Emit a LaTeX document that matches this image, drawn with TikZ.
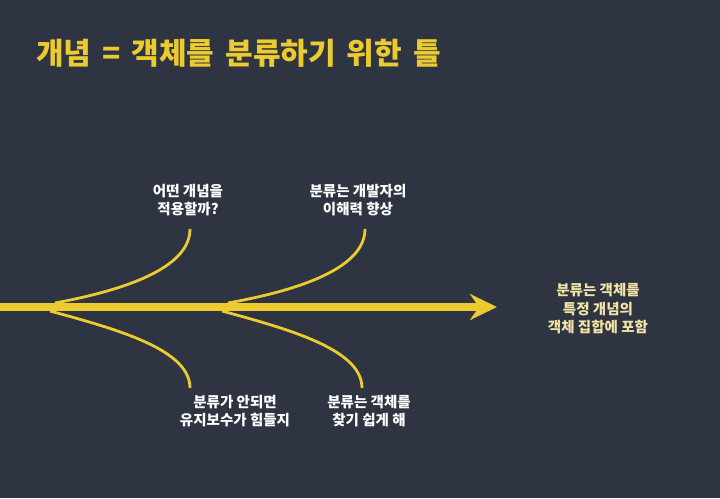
\documentclass[tikz,border=0pt]{standalone}
\usepackage{fontspec}
\setmainfont{Noto Sans CJK KR}
\usetikzlibrary{arrows.meta}
\definecolor{bg}{HTML}{2E3441}
\definecolor{ylw}{HTML}{EBCB2F}
\definecolor{pale}{HTML}{F2E3A6}
\newcommand{\widesp}{\spaceskip=11pt\relax}
\tikzset{
  lbl/.style={text=white, align=center, inner sep=0pt, font=\bfseries\fontsize{14.5}{18.5}\selectfont},
  branch/.style={draw=ylw, line width=2.8pt},
  spine/.style={draw=ylw, line width=8pt, -{Stealth[length=27pt,width=26pt,inset=9pt]}}
}
\begin{document}
\begin{tikzpicture}[x=1pt,y=-1pt]
\fill[bg] (0,0) rectangle (720,498);
\useasboundingbox (0,0) rectangle (720,498);
\node[anchor=west, text=ylw, inner sep=0pt, font=\bfseries\fontsize{30}{34}\selectfont] (title) at (36,53) {\widesp 개념 = 객체를 분류하기 위한 틀};

\coordinate (start) at (0,307);
\coordinate (tip) at (497,307);
\coordinate (j1) at (55,303);
\coordinate (j2) at (228,303);
\coordinate (j3) at (50,311);
\coordinate (j4) at (222,311);
\coordinate (e1) at (190,229);
\coordinate (e2) at (365,229);
\coordinate (e3) at (190,388);
\coordinate (e4) at (362,388);

\draw[spine] (start) -- (tip);
\draw[branch] (e1) .. controls (190,268) and (125,290) .. (j1);
\draw[branch] (e2) .. controls (365,268) and (300,290) .. (j2);
\draw[branch] (e3) .. controls (190,350) and (120,330) .. (j3);
\draw[branch] (e4) .. controls (362,350) and (292,330) .. (j4);

\node[lbl] (l1) at (188,200) {어떤 개념을\\적용할까?};
\node[lbl] (l2) at (358,200) {분류는 개발자의\\이해력 향상};
\node[lbl] (l3) at (235,411) {분류가 안되면\\유지보수가 힘들지};
\node[lbl] (l4) at (369,411) {분류는 객체를\\찾기 쉽게 해};
\node[lbl, text=pale] (l5) at (598,309) {분류는 객체를\\특정 개념의\\객체 집합에 포함};
\end{tikzpicture}
\end{document}
